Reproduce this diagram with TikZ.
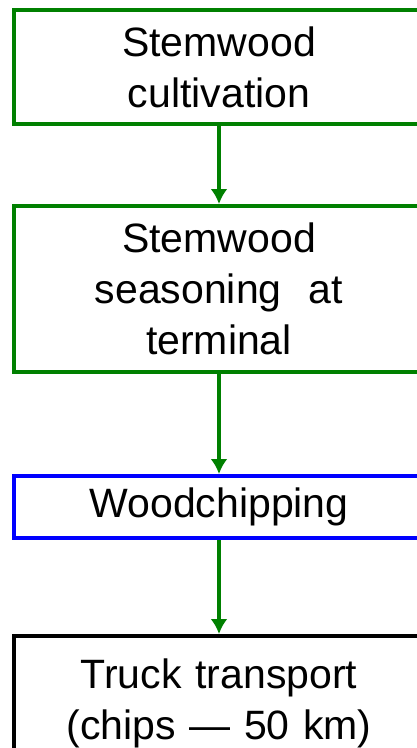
\documentclass[tikz,border=0pt]{standalone}
\usepackage{fontspec}
\setmainfont{Liberation Sans}
\usetikzlibrary{arrows.meta, positioning}
\definecolor{stepgreen}{RGB}{0,128,0}
\tikzset{
    procbox/.style={draw, line width=4pt, minimum width=410pt, align=center,
        text width=390pt, inner sep=0pt,
        font=\fontsize{41pt}{51pt}\selectfont},
    flow/.style={->, draw=stepgreen, fill=stepgreen, line width=4pt}
}
\begin{document}
\begin{tikzpicture}[>={Latex[length=15pt,width=17pt]}, x=1pt, y=1pt]
\useasboundingbox (0,0) rectangle (417,-748);
\clip (0,0) rectangle (417,-748);
\node[procbox, draw=stepgreen, minimum height=114pt] (cult) at (219,-67)
    {Stemwood\\cultivation};
\node[procbox, draw=stepgreen, minimum height=166pt] (season) at (219,-289)
    {Stemwood\\seasoning\ \ at\\terminal};
\node[procbox, draw=blue, minimum height=62pt] (chip) at (219,-507)
    {Woodchipping};
\node[procbox, draw=black, minimum height=134pt] (truck) at (219,-703)
    {Truck transport\\(chips — 50 km)};
\foreach \a/\b in {cult/season, season/chip, chip/truck}
{
    \draw[flow] (\a) -- (\b);
}
\end{tikzpicture}
\end{document}
